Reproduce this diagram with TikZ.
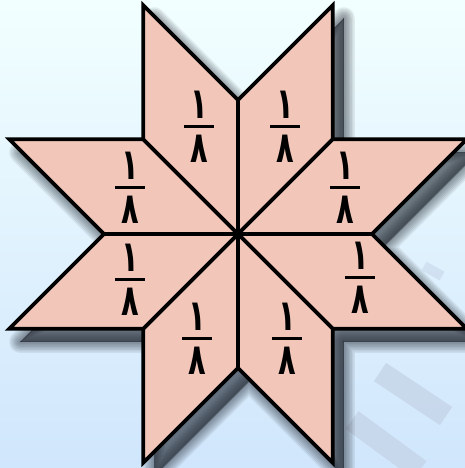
\documentclass[tikz,border=0pt]{standalone}
\usepackage{fontspec}
\usepackage{graphicx}
\usetikzlibrary{calc}
\newfontfamily\arabicfont[Script=Arabic]{DejaVu Sans}
\newcommand\ardigit[1]{\scalebox{0.72}[1.08]{\arabicfont\bfseries\fontsize{40}{40}\selectfont #1}}
\definecolor{petal}{RGB}{242,199,186}
\definecolor{bgtop}{RGB}{242,255,255}
\definecolor{bgbot}{RGB}{208,230,252}
\definecolor{wmark}{RGB}{196,210,230}
\definecolor{shade}{RGB}{30,36,44}
\begin{document}
\begin{tikzpicture}[x=1pt,y=-1pt,
  petalbox/.style={fill=petal, draw=black, line width=3.6pt, line join=miter},
  digit/.style={inner sep=0pt},
  barbox/.style={fill=black, draw=none, minimum width=30pt, minimum height=3pt, inner sep=0pt},
  shadowlayer/.style={fill=shade, draw=shade, opacity=0.08, line join=round}
]
\useasboundingbox (0,0) rectangle (465,468);
\clip (0,0) rectangle (465,468);
\shade[top color=bgtop, bottom color=bgbot] (0,0) rectangle (465,468);
% faint watermark strokes
\draw[wmark, line width=22pt, opacity=0.7] (380,372) -- (446,416);
\draw[wmark, line width=22pt, opacity=0.7] (352,420) -- (420,470);
\draw[wmark, line width=10pt, opacity=0.5] (424,266) -- (442,276);
% geometry
\coordinate (C) at (238,234);
\foreach \i in {0,...,7}{
  \coordinate (P\i) at ($(C)+(45*\i:134)$);
  \coordinate (T\i) at ($(C)+(45*\i:134)+(45*\i+45:134)$);
}
% shadow
\begin{scope}[transform canvas={shift={(11,13)}}]
\foreach \w in {22,19,...,1,0,0,0}{
  \path[shadowlayer, line width=\w pt]
    (P0) -- (T0) -- (P1) -- (T1) -- (P2) -- (T2) -- (P3) -- (T3) --
    (P4) -- (T4) -- (P5) -- (T5) -- (P6) -- (T6) -- (P7) -- (T7) -- cycle;
}
\end{scope}
% rhombi
\foreach \i in {0,...,7}{
  \pgfmathtruncatemacro{\j}{mod(\i+1,8)}
  \draw[petalbox] (C) -- (P\i) -- (T\i) -- (P\j) -- cycle;
}
\fill[black] (C) circle (3);
% fractions
\foreach \n/\x/\y in {a/199/126, b/285/126, c/130/187, d/345/187,
                      e/130/279, f/360/277, g/197/338, h/287/338}{
  \node[barbox] (bar\n) at (\x,\y) {};
  \node[digit, anchor=south] (num\n) at ($(bar\n.north)+(0,-6)$) {\ardigit{١}};
  \node[digit, anchor=north] (den\n) at ($(bar\n.south)+(0,7)$) {\ardigit{٨}};
}
\end{tikzpicture}
\end{document}
